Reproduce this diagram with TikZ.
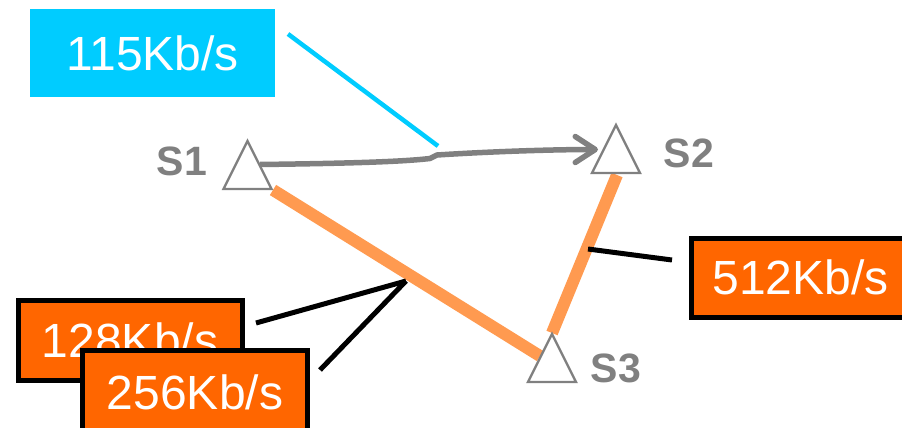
\documentclass[tikz,border=0pt]{standalone}
\usepackage{fontspec}
\setmainfont{Liberation Sans}
\usetikzlibrary{arrows.meta,calc}
\definecolor{linkgrey}{HTML}{808080}
\definecolor{skyblue}{HTML}{00CCFF}
\definecolor{rateorange}{HTML}{FF6600}
\definecolor{pathorange}{HTML}{FF9A50}
\tikzset{
  ratebox/.style={draw=black, line width=5pt, fill=rateorange, text=white,
    font=\fontsize{48}{48}\selectfont, inner sep=0pt, anchor=north west},
  flowbox/.style={fill=skyblue, text=white, font=\fontsize{48}{48}\selectfont,
    inner sep=0pt, anchor=north west},
  sitelabel/.style={text=linkgrey, font=\bfseries\fontsize{41}{41}\selectfont, inner sep=0pt},
  site/.style={draw=linkgrey, fill=white, line width=2.4pt, line join=miter},
  link/.style={pathorange, line width=12pt},
  leader/.style={black, line width=5pt},
  flow/.style={linkgrey, line width=5.5pt, line join=round,
    -{Straight Barb[length=20pt,width=26pt,round]}},
}
\begin{document}
\begin{tikzpicture}[x=1pt,y=-1pt]
\useasboundingbox (0,0) rectangle (902,428);

% station centres (apex / base geometry is relative to these)
\coordinate (s1) at (247.5,165);
\coordinate (s2) at (616,149);
\coordinate (s3) at (552,358);

% orange links between stations
\coordinate (l13a) at (273,190);
\coordinate (l13b) at (540,356);
\coordinate (l23a) at (617,175);
\coordinate (l23b) at (552,333);
\draw[link] (l13a) -- (l13b);
\draw[link] (l23a) -- (l23b);

% stations
\foreach \s in {s1,s2,s3}{
  \draw[site] ($(\s)+(-24,24)$) -- ($(\s)+(0,-24)$) -- ($(\s)+(24,24)$) -- cycle;
}
\node[sitelabel] (t1) at (182,161) {S1};
\node[sitelabel] (t2) at (689,153) {S2};
\node[sitelabel] (t3) at (616,368) {S3};

% flow from S1 to S2
\coordinate (fa) at (260,164.5);
\coordinate (fk1) at (430,158.5);
\coordinate (fk2) at (437,155);
\coordinate (fb) at (598,149.5);
\draw[flow] (fa) .. controls (340,163.5) and (400,162) .. (fk1) -- (fk2)
  .. controls (500,151) and (560,149.5) .. (fb);

% rate labels
\node[flowbox, minimum width=245pt, minimum height=88pt] (b115) at (30,9) {115Kb/s};
\coordinate (c115) at (288,34);
\coordinate (p115) at (438,146);
\draw[skyblue, line width=4.5pt] (c115) -- (p115);

\node[ratebox, minimum width=224pt, minimum height=80pt] (b128) at (15.5,298) {128Kb/s};
\node[ratebox, minimum width=225pt, minimum height=84pt] (b256) at (80,347.5) {256Kb/s};
\node[ratebox, minimum width=218pt, minimum height=79pt] (b512) at (689,235.5) {512Kb/s};

\coordinate (m13) at (406,281);
\coordinate (c128) at (256,323);
\coordinate (c256) at (320,370);
\draw[leader] (c128) -- (m13);
\draw[leader] (c256) -- (m13);

\coordinate (m23) at (588,249);
\coordinate (c512) at (672,260);
\draw[leader] (m23) -- (c512);
\end{tikzpicture}
\end{document}
